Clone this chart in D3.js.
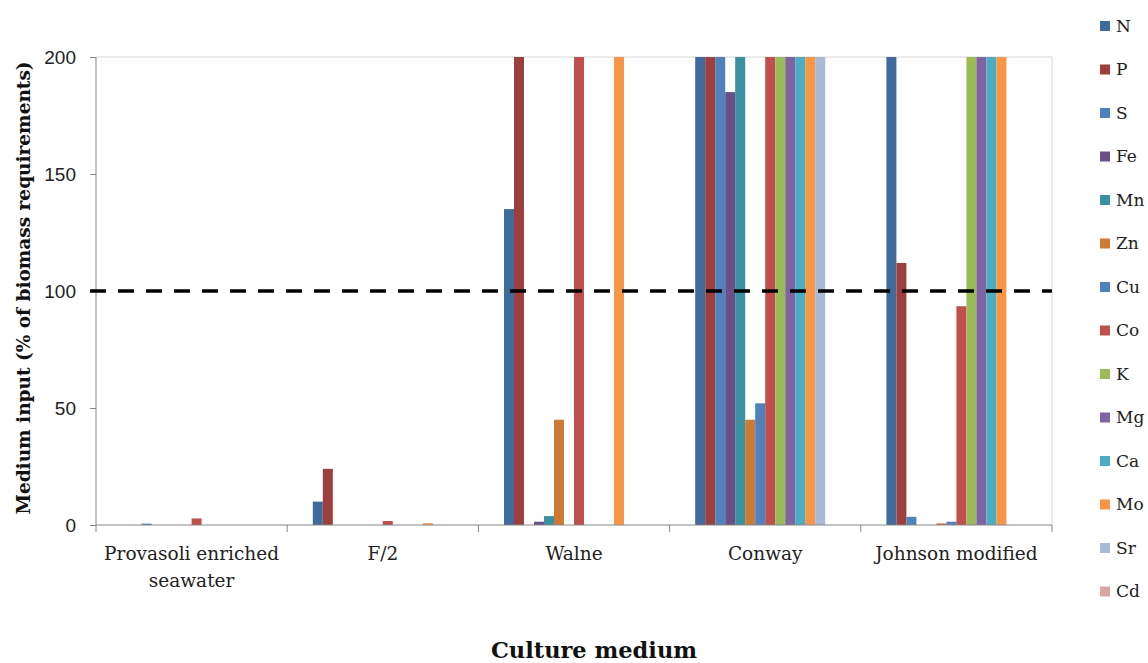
<!DOCTYPE html>
<html><head><meta charset="utf-8">
<script src="https://cdn.jsdelivr.net/npm/d3@7"></script>
<style>body{margin:0;background:#fff}svg{display:block}</style>
</head><body>
<svg id="c" width="1148" height="663"></svg>
<script>
const categories = ["Provasoli enriched seawater","F/2","Walne","Conway","Johnson modified"];
const categoryLines = [["Provasoli enriched","seawater"],["F/2"],["Walne"],["Conway"],["Johnson modified"]];
const seriesNames = ["N","P","S","Fe","Mn","Zn","Cu","Co","K","Mg","Ca","Mo","Sr","Cd"];
const seriesColors = ["#3f6b9c","#9d3f3d","#4f81bd","#6a5087","#3a8fa0","#cc7a35","#4f81bd","#c0504d","#9bbb59","#8064a2","#4bacc6","#f79646","#a9b9d9","#d9a5a5"];
// values per series, one entry per category
const N  = [0, 10, 135, 200, 200];
const P  = [0, 24, 200, 200, 112];
const S  = [0.6, 0, 0, 200, 3.5];
const Fe = [0, 0, 1.4, 185, 0];
const Mn = [0, 0, 3.8, 200, 0];
const Zn = [0, 0, 45, 45, 0.7];
const Cu = [0, 0, 0, 52, 1.4];
const Co = [2.8, 1.7, 200, 200, 93.5];
const K  = [0, 0, 0, 200, 200];
const Mg = [0, 0, 0, 200, 200];
const Ca = [0, 0, 0, 200, 200];
const Mo = [0, 0.8, 200, 200, 200];
const Sr = [0, 0, 0, 200, 0];
const Cd = [0, 0, 0, 0, 0];
const seriesValues = [N,P,S,Fe,Mn,Zn,Cu,Co,K,Mg,Ca,Mo,Sr,Cd];
const yTicks = [0,50,100,150,200];
const referenceLevel = 100;

const svg = d3.select("#c");
const L = 96, R = 1052, T = 57, B = 525;
const x = d3.scaleBand().domain(categories).range([L, R]).padding(0);
const xs = d3.scaleBand().domain(seriesNames).range([0, x.bandwidth()]).paddingInner(0).paddingOuter(2.56);
const y = d3.scaleLinear().domain([0,200]).range([B, T]);

// plot border (top & right)
svg.append("path").attr("d", `M${L},${T}H${R}V${B}`).attr("fill","none").attr("stroke","#d9d9d9").attr("stroke-width",1);

// bars
categories.forEach((cat, ci) => {
  const g = svg.append("g").attr("transform", `translate(${x(cat)},0)`);
  seriesNames.forEach((s, si) => {
    const v = seriesValues[si][ci];
    if (v <= 0) return;
    g.append("rect")
      .attr("x", xs(s)).attr("width", xs.bandwidth())
      .attr("y", y(v)).attr("height", y(0) - y(v))
      .attr("fill", seriesColors[si]);
  });
});

// y axis
const yAxis = svg.append("g").attr("transform", `translate(${L},0)`)
  .call(d3.axisLeft(y).tickValues(yTicks).tickSize(6).tickPadding(14));
yAxis.select(".domain").attr("stroke","#868686").attr("d", `M0,${T}V${B}`);
yAxis.selectAll(".tick line").attr("stroke","#868686");
yAxis.selectAll(".tick text").attr("font-family","'Liberation Sans', Arial, sans-serif").attr("font-size",19).attr("fill","#222").attr("dy","0.35em");

// x axis
const xAxis = svg.append("g").attr("transform", `translate(0,${B})`)
  .call(d3.axisBottom(x).tickSize(0).tickFormat(""));
xAxis.select(".domain").attr("stroke","#868686").attr("d", `M${L},0H${R}`);
const bounds = categories.map(c => x(c)).concat([R]);
xAxis.selectAll(".bt").data(bounds).enter().append("line")
  .attr("x1", d=>d).attr("x2", d=>d).attr("y1",0).attr("y2",7).attr("stroke","#868686");

// category labels
categories.forEach((cat, ci) => {
  const t = svg.append("text").attr("text-anchor","middle")
    .attr("font-family","'DejaVu Serif', serif").attr("font-size",18.5).attr("fill","#222");
  categoryLines[ci].forEach((line, li) => {
    t.append("tspan").attr("x", x(cat) + x.bandwidth()/2).attr("y", 560 + li*27).text(line);
  });
});

// reference dashed line
svg.append("line").attr("x1", 90).attr("x2", R).attr("y1", y(referenceLevel)).attr("y2", y(referenceLevel))
  .attr("stroke","#000").attr("stroke-width",3.5).attr("stroke-dasharray","16,12");

// axis titles
svg.append("text").attr("transform", `translate(30,${(T+B)/2 - 3}) rotate(-90)`)
  .attr("text-anchor","middle").attr("font-family","'DejaVu Serif', serif").attr("font-weight","bold")
  .attr("font-size",18.5).attr("fill","#111").text("Medium input (% of biomass requirements)");
svg.append("text").attr("x", (L+R)/2 + 20).attr("y", 658)
  .attr("text-anchor","middle").attr("font-family","'DejaVu Serif', serif").attr("font-weight","bold")
  .attr("font-size",22.5).attr("fill","#111").text("Culture medium");

// legend
const lg = svg.append("g");
seriesNames.forEach((s, i) => {
  const cy = 26 + i * 43.5;
  lg.append("rect").attr("x",1100).attr("y",cy-5).attr("width",10).attr("height",10).attr("fill",seriesColors[i]);
  lg.append("text").attr("x",1116).attr("y",cy).attr("dy","0.35em")
    .attr("font-family","'DejaVu Serif', serif").attr("font-size",17).attr("fill","#222").text(s);
});
</script>
</body></html>
